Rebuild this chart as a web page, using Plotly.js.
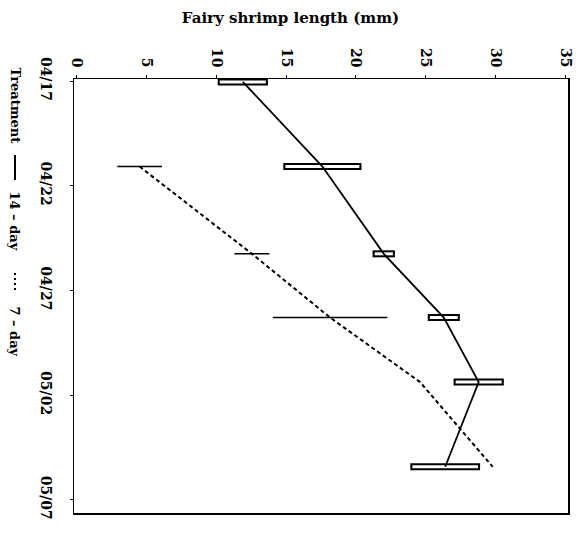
<!DOCTYPE html>
<html><head>
<script src="https://cdn.plot.ly/plotly-3.0.0.min.js"></script>
<style>body{margin:0;background:#fff}#c{width:581px;height:545px}</style>
</head><body><div id="c"></div>
<script>
// Data (value axis = length in mm, category axis = sampling date)
const dates14 = ['2000-04-17 01:00','2000-04-21 02:00','2000-04-25 06:00','2000-04-28 07:00','2000-05-01 09:00','2000-05-05 10:00'];
const len14 = [11.9, 17.6, 22.0, 26.3, 28.8, 26.4];
const err14 = [1.8, 2.8, 0.8, 1.15, 1.8, 2.5];
const dates7 = ['2000-04-21 02:00','2000-04-25 06:00','2000-04-28 07:00','2000-05-01 09:00','2000-05-05 10:00'];
const len7 = [4.5, 12.55, 18.15, 24.6, 29.8];
const err7 = [1.6, 1.25, 4.1, 0, 0];
const tickDates = ['2000-04-17','2000-04-22','2000-04-27','2000-05-02','2000-05-07'];
const tickLabels = ['04/17','04/22','04/27','05/02','05/07'];
const valueTicks = [0, 5, 10, 15, 20, 25, 30, 35];

const FONT = 'DejaVu Serif';
const M = {l:74, r:13, t:79, b:32};
const W = 581, H = 545;
const pw = W - M.l - M.r, ph = H - M.t - M.b;
const px = v => (v - M.l) / pw;
const py = v => 1 - (v - M.t) / ph;
const bold = s => '<b>' + s + '</b>';

const traces = [
  {x: len14, y: dates14, type:'scatter', mode:'markers', marker:{size:1, opacity:0},
   error_x:{type:'data', array:err14, visible:true, color:'#000', thickness:7, width:0},
   hoverinfo:'skip', showlegend:false},
  {x: len14, y: dates14, type:'scatter', mode:'markers', marker:{size:1, opacity:0},
   error_x:{type:'data', array:err14.map(e => Math.max(e - 0.15, 0)), visible:true, color:'#fff', thickness:3, width:0},
   hoverinfo:'skip', showlegend:false},
  {x: len7, y: dates7, type:'scatter', mode:'markers', marker:{size:1, opacity:0},
   error_x:{type:'data', array:err7, visible:true, color:'#000', thickness:1.5, width:0},
   hoverinfo:'skip', showlegend:false},
  {x: len14, y: dates14, type:'scatter', mode:'lines', name:'14 - day',
   line:{color:'#000', width:1.8}, showlegend:false},
  {x: len7, y: dates7, type:'scatter', mode:'lines', name:'7 - day',
   line:{color:'#000', width:2, dash:'4px,3px'}, showlegend:false}
];

const tickFont = {family: FONT, size: 14, color:'#000'};

const layout = {
  width: W, height: H, margin: M,
  paper_bgcolor:'#fff', plot_bgcolor:'#fff',
  title: {text:'<b>Fairy shrimp length (mm)</b>', font:{family:FONT, size:15, color:'#000'},
          x:0.5, xref:'container', y:1 - 18/H, yref:'container', yanchor:'middle'},
  xaxis: {side:'top', range:[-0.2, 35.2], tickvals:valueTicks, ticktext:valueTicks.map(v => bold(v)),
          tickangle:90, ticks:'outside', ticklen:3, tickcolor:'#000', showline:true, mirror:true,
          linecolor:'#000', linewidth:1.5, showgrid:false, zeroline:false,
          tickfont:tickFont, ticklabelstandoff:2},
  yaxis: {type:'date', range:['2000-05-07 15:00','2000-04-16 21:40'],
          tickvals:tickDates, ticktext:tickLabels.map(bold), tickangle:90,
          ticks:'outside', ticklen:3, tickcolor:'#000', showline:true, mirror:true,
          linecolor:'#000', linewidth:1.5, showgrid:false, zeroline:false,
          tickfont:tickFont, ticklabelstandoff:12},
  annotations: [
    {xref:'paper', yref:'paper', x:px(14.5), y:py(105), text:'<b>Treatment</b>', textangle:90,
     showarrow:false, font:{family:FONT, size:13, color:'#000'}, xanchor:'center', yanchor:'middle'},
    {xref:'paper', yref:'paper', x:px(14.5), y:py(221), text:'<b>14 – day</b>', textangle:90,
     showarrow:false, font:{family:FONT, size:13, color:'#000'}, xanchor:'center', yanchor:'middle'},
    {xref:'paper', yref:'paper', x:px(14.5), y:py(331), text:'<b>7 – day</b>', textangle:90,
     showarrow:false, font:{family:FONT, size:13, color:'#000'}, xanchor:'center', yanchor:'middle'}
  ],
  shapes: [
    {type:'line', xref:'paper', yref:'paper', x0:px(15), x1:px(15), y0:py(155), y1:py(180),
     line:{color:'#000', width:2}},
    {type:'line', xref:'paper', yref:'paper', x0:px(15), x1:px(15), y0:py(273), y1:py(293),
     line:{color:'#000', width:2, dash:'2px,3px'}}
  ]
};

Plotly.newPlot('c', traces, layout, {displayModeBar:false, staticPlot:true});
</script>
</body></html>
